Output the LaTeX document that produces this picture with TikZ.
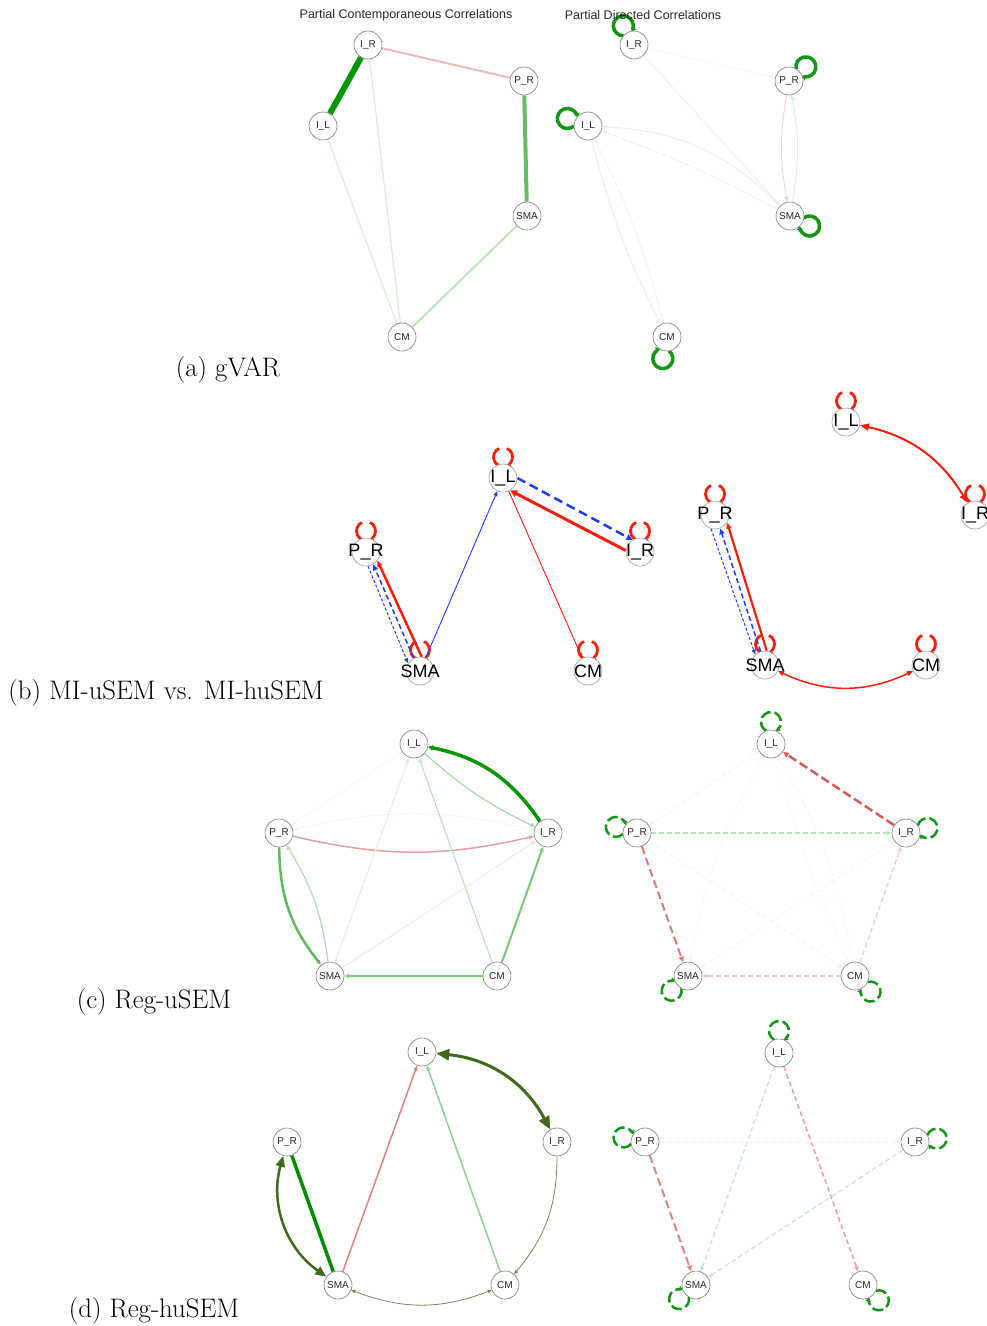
\documentclass[tikz,border=0pt]{standalone}
\usepackage{fontspec}
\newfontfamily\hv{Liberation Sans}
\usetikzlibrary{arrows.meta,calc}
\pgfdeclarelayer{edges}
\pgfsetlayers{edges,main}
\definecolor{gdark}{RGB}{0,150,0}
\definecolor{gmed}{RGB}{100,190,100}
\definecolor{glight}{RGB}{190,228,190}
\definecolor{gfaint}{RGB}{215,238,215}
\definecolor{pinkA}{RGB}{240,185,185}
\definecolor{loopg}{RGB}{20,150,20}
\definecolor{bred}{RGB}{250,30,10}
\definecolor{bblue}{RGB}{30,60,255}
\definecolor{olivd}{RGB}{65,105,30}
\definecolor{olivl}{RGB}{110,140,80}
\definecolor{nodeb}{RGB}{120,120,120}
\newcommand\sloop[3]{%
  \draw[#3] ($(#1.center)+(#2:22pt)+({#2+152}:10pt)$) arc[start angle={#2+152},delta angle=-304,radius=10pt];}
\newcommand\bloop[1]{%
  \draw[bloopst] ($(#1.center)+(0,21)+(250:9.5pt)$) arc[start angle=250,end angle=115,radius=9.5pt];
  \draw[bloopst,-{Triangle[length=4pt,width=5pt]}] ($(#1.center)+(0,21)+(65:9.5pt)$) arc[start angle=65,end angle=-68,radius=9.5pt];}
\begin{document}
\begin{tikzpicture}[x=1pt,y=1pt,
  nd/.style={circle,draw=nodeb,fill=white,minimum size=28pt,inner sep=0pt,line width=0.6pt,font=\hv\fontsize{10}{11}\selectfont,text=black!85},
  ndb/.style={circle,draw=black!40,fill=white,minimum size=28pt,inner sep=0pt,line width=0.6pt,font=\hv\fontsize{18}{18}\selectfont,text=black},
  ttl/.style={font=\hv\fontsize{12.5}{14}\selectfont,text=black!85},
  capt/.style={font=\fontsize{26.8}{30}\selectfont},
  tip/.style={-{Triangle[length=5pt,width=4pt]}},
  tipm/.style={-{Triangle[length=6pt,width=5pt]}},
  dsh/.style={dash pattern=on 5pt off 3pt},
  aloop/.style={draw=loopg,line width=3.5pt,-{Triangle[length=4pt,width=6pt]}},
  cloop/.style={draw=loopg,line width=2.5pt,dash pattern=on 11pt off 4pt,-{Triangle[length=4pt,width=5pt]}},
  bloopst/.style={draw=bred,line width=2.8pt},
]
\useasboundingbox (0,0) rectangle (986,-1326);

% ---------- (a) ----------
\node[ttl] (t1) at (406,-15) {Partial Contemporaneous Correlations};
\node[ttl] (t2) at (643,-15) {Partial Directed Correlations};
\node[nd] (aIR) at (368,-45) {I\_R};
\node[nd] (aPR) at (524,-81) {P\_R};
\node[nd] (aIL) at (323,-126) {I\_L};
\node[nd] (aSMA) at (527,-216) {SMA};
\node[nd] (aCM) at (402,-337) {CM};
\node[nd] (AIR) at (634,-45) {I\_R};
\node[nd] (APR) at (789,-81) {P\_R};
\node[nd] (AIL) at (588,-126) {I\_L};
\node[nd] (ASMA) at (790,-216) {SMA};
\node[nd] (ACM) at (667,-337) {CM};
\node[capt] (capa) at (228,-370) {(a) gVAR};

% ---------- (b) ----------
\node[ndb] (bIL) at (503,-478) {\makebox[0pt]{I\_L}};
\node[ndb] (bPR) at (366,-552) {\makebox[0pt]{P\_R}};
\node[ndb] (bIR) at (640,-552) {\makebox[0pt]{I\_R}};
\node[ndb] (bSMA) at (420,-671) {\makebox[0pt]{SMA}};
\node[ndb] (bCM) at (588,-671) {\makebox[0pt]{CM}};
\node[ndb] (BIL) at (846,-422) {\makebox[0pt]{I\_L}};
\node[ndb] (BIR) at (975,-515) {\makebox[0pt]{I\_R}};
\node[ndb] (BPR) at (715,-515) {\makebox[0pt]{P\_R}};
\node[ndb] (BSMA) at (765,-665) {\makebox[0pt]{SMA}};
\node[ndb] (BCM) at (926,-665) {\makebox[0pt]{CM}};
\node[capt] (capb) at (166,-693) {(b) MI-uSEM vs. MI-huSEM};

% ---------- (c) ----------
\node[nd] (cIL) at (414,-744) {I\_L};
\node[nd] (cPR) at (279,-833) {P\_R};
\node[nd] (cIR) at (548,-833) {I\_R};
\node[nd] (cSMA) at (330,-976) {SMA};
\node[nd] (cCM) at (497,-976) {CM};
\node[nd] (CIL) at (771,-744) {I\_L};
\node[nd] (CPR) at (637,-833) {P\_R};
\node[nd] (CIR) at (906,-833) {I\_R};
\node[nd] (CSMA) at (688,-976) {SMA};
\node[nd] (CCM) at (855,-976) {CM};
\node[capt] (capc) at (154,-1002) {(c) Reg-uSEM};

% ---------- (d) ----------
\node[nd] (dIL) at (422,-1052) {I\_L};
\node[nd] (dPR) at (287,-1142) {P\_R};
\node[nd] (dIR) at (557,-1142) {I\_R};
\node[nd] (dSMA) at (338,-1285) {SMA};
\node[nd] (dCM) at (505,-1285) {CM};
\node[nd] (DIL) at (779,-1053) {I\_L};
\node[nd] (DPR) at (645,-1142) {P\_R};
\node[nd] (DIR) at (915,-1142) {I\_R};
\node[nd] (DSMA) at (696,-1285) {SMA};
\node[nd] (DCM) at (863,-1285) {CM};
\node[capt] (capd) at (154,-1311) {(d) Reg-huSEM};

\begin{pgfonlayer}{edges}
% (a) left
\draw[line width=6pt,gdark] (aIR) -- (aIL);
\draw[line width=2pt,pinkA] (aIR) -- (aPR);
\draw[line width=4pt,gmed] (aPR) -- (aSMA);
\draw[line width=1.2pt,gfaint] (aIR) -- (aCM);
\draw[line width=1.2pt,gfaint] (aIL) -- (aCM);
\draw[line width=2pt,glight] (aSMA) -- (aCM);
% (a) right
\sloop{AIR}{119}{aloop}
\sloop{APR}{40}{aloop}
\sloop{AIL}{160}{aloop}
\sloop{ASMA}{-27}{aloop}
\sloop{ACM}{259}{aloop}
\draw[tip,line width=0.8pt,draw={rgb,255:red,244;green,247;blue,244}] (AIR) -- (APR);
\draw[tip,line width=0.8pt,draw={rgb,255:red,230;green,243;blue,230}] (AIR) -- (ASMA);
\draw[tip,line width=0.8pt,draw={rgb,255:red,247;green,230;blue,230}] (ASMA) to[bend right=21] (AIL);
\draw[tip,line width=0.8pt,draw={rgb,255:red,232;green,244;blue,232}] (ASMA) to[bend right=4] (AIL);
\draw[tip,line width=0.8pt,draw={rgb,255:red,247;green,230;blue,230}] (AIL) to[bend right=6] (ACM);
\draw[tip,line width=0.8pt,draw={rgb,255:red,240;green,241;blue,234}] (ACM) to[bend right=6] (AIL);
\draw[tip,line width=0.8pt,draw={rgb,255:red,245;green,208;blue,208}] (APR) to[bend right=10] (ASMA);
\draw[tip,line width=0.8pt,draw={rgb,255:red,215;green,238;blue,215}] (ASMA) to[bend right=10] (APR);

% (b) left
\bloop{bIL}\bloop{bPR}\bloop{bIR}\bloop{bSMA}\bloop{bCM}
\draw[bblue,line width=2.5pt,dash pattern=on 9pt off 5pt,-{Triangle[length=6pt,width=6pt]}] (bIL.0) -- (bIR.122);
\draw[bred,line width=3pt,-{Triangle[length=7pt,width=7pt]}] (bIR.174) -- (bIL.-60);
\draw[bblue,line width=0.9pt,tip] (bSMA) -- (bIL);
\draw[bred,line width=0.9pt,tip] (bIL) -- (bCM);
\draw[bred,line width=2.5pt,tipm] (bSMA.83) -- (bPR.-37);
\draw[bblue,line width=1.5pt,dash pattern=on 5pt off 3pt,tipm] (bSMA.116) -- (bPR.-60);
\draw[bblue,line width=1pt,dash pattern=on 3pt off 2pt,tip] (bPR.-82) -- (bSMA.147);
% (b) right
\bloop{BIL}\bloop{BIR}\bloop{BPR}\bloop{BSMA}\bloop{BCM}
\draw[bred,line width=2pt,{Triangle[length=9pt,width=7pt]}-{Triangle[length=9pt,width=7pt]}] (BIL) to[bend left=23] (BIR);
\draw[bred,line width=1.5pt,{Triangle[length=6pt,width=5pt]}-{Triangle[length=6pt,width=5pt]}] (BSMA) to[bend right=25] (BCM);
\draw[bred,line width=2.2pt,tipm] (BSMA.83) -- (BPR.-32);
\draw[bblue,line width=1pt,dash pattern=on 3pt off 2pt,tip] (BPR.-106) -- (BSMA.133);
\draw[bblue,line width=1.5pt,dash pattern=on 5pt off 3pt,tipm] (BSMA.108) -- (BPR.-69);

% (c) left
\draw[gdark,line width=3.5pt,-{Triangle[length=5pt,width=5pt]}] (cIR) to[bend right=22] (cIL);
\draw[tip,line width=1.2pt,draw={rgb,255:red,170;green,215;blue,170}] (cIL) to[bend right=8] (cIR);
\draw[tip,line width=0.8pt,draw={rgb,255:red,242;green,244;blue,242}] (cIR) to[bend right=13] (cPR);
\draw[tip,line width=1.5pt,draw={rgb,255:red,228;green,160;blue,160}] (cPR) to[bend right=13] (cIR);
\draw[tip,line width=2.5pt,draw={rgb,255:red,95;green,185;blue,95}] (cPR) to[bend right=19] (cSMA);
\draw[tip,line width=1.2pt,draw={rgb,255:red,175;green,220;blue,175}] (cSMA) to[bend right=12] (cPR);
\draw[tip,line width=0.8pt,draw={rgb,255:red,246;green,220;blue,220}] (cSMA) -- (cIL);
\draw[tip,line width=0.8pt,draw={rgb,255:red,246;green,224;blue,224}] (cSMA) -- (cIR);
\draw[tip,line width=1.2pt,draw={rgb,255:red,190;green,225;blue,190}] (cCM) -- (cIL);
\draw[tip,line width=2pt,draw={rgb,255:red,120;green,200;blue,120}] (cCM) -- (cIR);
\draw[tip,line width=2pt,draw={rgb,255:red,130;green,205;blue,130}] (cCM) -- (cSMA);
\draw[tip,line width=0.8pt,draw={rgb,255:red,246;green,246;blue,246}] (cIL) -- (cPR);
% (c) right
\sloop{CIL}{90}{cloop}
\sloop{CPR}{164}{cloop}
\sloop{CIR}{13}{cloop}
\sloop{CSMA}{222}{cloop}
\sloop{CCM}{-45}{cloop}
\draw[tip,line width=0.7pt,dsh,draw={rgb,255:red,249;green,238;blue,238}] (CIL) -- (CPR);
\draw[tip,line width=0.7pt,dsh,draw={rgb,255:red,240;green,246;blue,240}] (CIL) to[bend right=10] (CSMA);
\draw[tip,line width=0.7pt,dsh,draw={rgb,255:red,249;green,240;blue,240}] (CCM) to[bend right=10] (CIL);
\draw[tip,line width=0.7pt,dsh,draw={rgb,255:red,243;green,246;blue,243}] (CIL) to[bend right=4] (CCM);
\draw[tip,line width=0.7pt,dsh,draw={rgb,255:red,237;green,246;blue,237}] (CIR) -- (CSMA);
\draw[tip,line width=0.7pt,dsh,draw={rgb,255:red,247;green,237;blue,237}] (CPR) -- (CCM);
\draw[tipm,line width=2.5pt,dash pattern=on 9pt off 4pt,draw={rgb,255:red,215;green,90;blue,90}] (CIR) -- (CIL);
\draw[tip,line width=1.2pt,dsh,draw={rgb,255:red,185;green,228;blue,185}] (CPR) -- (CIR);
\draw[tipm,line width=2pt,dash pattern=on 8pt off 4pt,draw={rgb,255:red,225;green,120;blue,120}] (CPR) -- (CSMA);
\draw[tip,line width=1.5pt,dsh,draw={rgb,255:red,242;green,195;blue,195}] (CCM) -- (CSMA);
\draw[tip,line width=1.2pt,dsh,draw={rgb,255:red,245;green,200;blue,200}] (CCM) -- (CIR);

% (d) left
\draw[olivd,line width=3pt,{Triangle[length=13pt,width=11pt]}-{Triangle[length=13pt,width=11pt]}] (dIL) to[bend left=28] (dIR);
\draw[olivd,line width=2.5pt,{Triangle[length=11pt,width=9pt]}-{Triangle[length=11pt,width=9pt]}] (dPR) to[bend right=35] (dSMA);
\draw[line width=3.5pt,draw={rgb,255:red,0;green,140;blue,0}] (dSMA) -- (dPR);
\draw[tip,line width=1.5pt,draw={rgb,255:red,222;green,128;blue,128}] (dSMA) -- (dIL);
\draw[tip,line width=1.5pt,draw={rgb,255:red,140;green,210;blue,140}] (dCM) -- (dIL);
\draw[olivl,line width=0.8pt,-{Triangle[length=4pt,width=3.5pt]}] (dIR) to[bend left=20] (dCM);
\draw[olivl,line width=0.8pt,{Triangle[length=4pt,width=3.5pt]}-{Triangle[length=4pt,width=3.5pt]}] (dSMA) to[bend right=21] (dCM);
% (d) right
\sloop{DIL}{90}{cloop}
\sloop{DPR}{168}{cloop}
\sloop{DIR}{9}{cloop}
\sloop{DSMA}{220}{cloop}
\sloop{DCM}{-44}{cloop}
\draw[tip,line width=1.2pt,dsh,draw={rgb,255:red,195;green,230;blue,195}] (DIL) -- (DSMA);
\draw[tip,line width=1.5pt,dsh,draw={rgb,255:red,232;green,160;blue,160}] (DIL) -- (DCM);
\draw[tipm,line width=2pt,dash pattern=on 8pt off 4pt,draw={rgb,255:red,225;green,130;blue,130}] (DPR) -- (DSMA);
\draw[tip,line width=1.2pt,dsh,draw={rgb,255:red,200;green,230;blue,200}] (DIR) -- (DSMA);
\draw[tip,line width=0.8pt,dsh,draw={rgb,255:red,236;green,243;blue,236}] (DPR) -- (DIR);
\end{pgfonlayer}
\end{tikzpicture}
\end{document}
